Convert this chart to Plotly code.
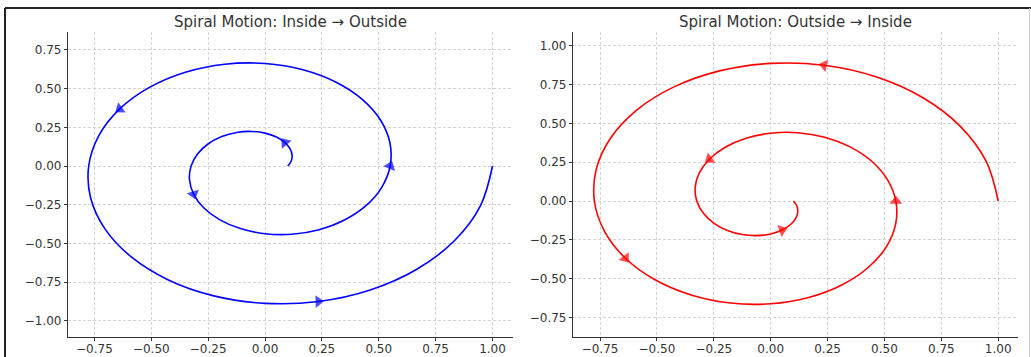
import plotly.graph_objects as go

# ---- data (points every 15 degrees along each spiral) ----
left_x = [0.100, 0.1147, 0.1191, 0.1105, 0.0875, 0.0501, 0.0, -0.0598, -0.125, -0.1900,
          -0.2490, -0.2958, -0.325, -0.3320, -0.3139, -0.2696, -0.2, -0.1084, 0.0, 0.1181,
          0.2375, 0.3491, 0.4438, 0.5131, 0.55, 0.5494, 0.5088, 0.4287, 0.3125, 0.1666,
          0.0, -0.1763, -0.35, -0.5082, -0.6387, -0.7305, -0.775, -0.7667, -0.7036, -0.5878,
          -0.425, -0.2248, 0.0, 0.2345, 0.4625, 0.6673, 0.8335, 0.9478, 1.0]
left_y = [0.0, 0.0307, 0.0688, 0.1105, 0.1516, 0.1871, 0.2125, 0.2234, 0.2165, 0.1900,
          0.1438, 0.0793, 0.0, -0.0890, -0.1813, -0.2696, -0.3464, -0.4045, -0.4375, -0.4407,
          -0.4114, -0.3491, -0.2563, -0.1375, 0.0, 0.1472, 0.2938, 0.4287, 0.5413, 0.6218,
          0.6625, 0.6580, 0.6062, 0.5082, 0.3688, 0.1957, 0.0, -0.2054, -0.4063, -0.5878,
          -0.7361, -0.8391, -0.8875, -0.8754, -0.8011, -0.6673, -0.4813, -0.2540, 0.0]

right_x = [1.0, 0.9478, 0.8335, 0.6673, 0.4625, 0.2345, 0.0, -0.2248, -0.425, -0.5878,
           -0.7036, -0.7667, -0.775, -0.7305, -0.6387, -0.5082, -0.35, -0.1763, 0.0, 0.1666,
           0.3125, 0.4287, 0.5088, 0.5494, 0.55, 0.5131, 0.4438, 0.3491, 0.2375, 0.1181,
           0.0, -0.1084, -0.2, -0.2696, -0.3139, -0.3320, -0.325, -0.2958, -0.2490, -0.1900,
           -0.125, -0.0598, 0.0, 0.0501, 0.0875, 0.1105, 0.1191, 0.1147, 0.100]
right_y = [0.0, 0.2540, 0.4813, 0.6673, 0.8011, 0.8754, 0.8875, 0.8391, 0.7361, 0.5878,
           0.4063, 0.2054, 0.0, -0.1957, -0.3688, -0.5082, -0.6062, -0.6580, -0.6625, -0.6218,
           -0.5413, -0.4287, -0.2938, -0.1472, 0.0, 0.1375, 0.2563, 0.3491, 0.4114, 0.4407,
           0.4375, 0.4045, 0.3464, 0.2696, 0.1813, 0.0890, 0.0, -0.0793, -0.1438, -0.1900,
           -0.2165, -0.2234, -0.2125, -0.1871, -0.1516, -0.1105, -0.0688, -0.0307, 0.0]

left_arrow_idx = [4, 14, 24, 34, 43]
right_arrow_idx = [5, 14, 24, 33, 43]

titles = ["Spiral Motion: Inside \u2192 Outside", "Spiral Motion: Outside \u2192 Inside"]
x_ticks = [-0.75, -0.5, -0.25, 0.0, 0.25, 0.5, 0.75, 1.0]
left_y_ticks = [-1.0, -0.75, -0.5, -0.25, 0.0, 0.25, 0.5, 0.75]
right_y_ticks = [-0.75, -0.5, -0.25, 0.0, 0.25, 0.5, 0.75, 1.0]

W, H = 1031, 357
FONT = "DejaVu Sans"


def sizes(n, idx, s):
    return [s if i in idx else 0 for i in range(n)]


fig = go.Figure()

fig.add_trace(go.Scatter(
    x=left_x, y=left_y, mode="lines+markers", xaxis="x", yaxis="y",
    line=dict(color="#0000ff", width=1.6, shape="spline", smoothing=1.0),
    marker=dict(symbol="triangle-up", angleref="previous",
                size=sizes(len(left_x), left_arrow_idx, 11),
                color="#0000ff", line=dict(width=0)),
    hoverinfo="skip", showlegend=False))

fig.add_trace(go.Scatter(
    x=right_x, y=right_y, mode="lines+markers", xaxis="x2", yaxis="y2",
    line=dict(color="#ff0000", width=1.6, shape="spline", smoothing=1.0),
    marker=dict(symbol="triangle-up", angleref="previous",
                size=sizes(len(right_x), right_arrow_idx, 11),
                color="#ff0000", line=dict(width=0)),
    hoverinfo="skip", showlegend=False))

axis_common = dict(
    showline=True, linecolor="#333333", linewidth=1.2, mirror=False,
    ticks="outside", ticklen=3, tickwidth=1, tickcolor="#333333",
    showgrid=True, gridcolor="#d3d3d3", gridwidth=0.8, griddash="3px,2px",
    zeroline=False, tickformat=".2f",
    tickfont=dict(family=FONT, size=12, color="#333333"),
)

d_left = [68 / W, 513 / W]
d_right = [573 / W, 1018 / W]
d_y = [1 - 337 / H, 1 - 32 / H]

fig.update_layout(
    width=W, height=H, margin=dict(l=0, r=0, t=0, b=0),
    paper_bgcolor="white", plot_bgcolor="white",
    font=dict(family=FONT, color="#333333"),
    xaxis=dict(domain=d_left, range=[-0.866, 1.09], tickvals=x_ticks, anchor="y",
               ticklabelstandoff=-3, **axis_common),
    yaxis=dict(domain=d_y, range=[-1.105, 0.866], tickvals=left_y_ticks, anchor="x", **axis_common),
    xaxis2=dict(domain=d_right, range=[-0.869, 1.087], tickvals=x_ticks, anchor="y2",
                ticklabelstandoff=-3, **axis_common),
    yaxis2=dict(domain=d_y, range=[-0.877, 1.09], tickvals=right_y_ticks, anchor="x2", **axis_common),
)

for i, t in enumerate(titles):
    d = d_left if i == 0 else d_right
    fig.add_annotation(text=t, x=(d[0] + d[1]) / 2, y=1 - 22 / H, xref="paper", yref="paper",
                       showarrow=False, xanchor="center", yanchor="middle",
                       font=dict(family=FONT, size=15, color="#333333"))

# outer frame of the picture (dark top/left edges, light right edge)
fig.add_shape(type="line", xref="paper", yref="paper", x0=5 / W, x1=1, y0=1 - 8 / H, y1=1 - 8 / H,
              line=dict(color="#222222", width=2))
fig.add_shape(type="line", xref="paper", yref="paper", x0=5 / W, x1=5 / W, y0=0, y1=1 - 8 / H,
              line=dict(color="#222222", width=2))
fig.add_shape(type="line", xref="paper", yref="paper", x0=1029.5 / W, x1=1029.5 / W, y0=0, y1=1 - 8 / H,
              line=dict(color="#cccccc", width=1))

fig.write_html("out.html", config={"displayModeBar": False},
               post_script="document.body.style.margin='0';")
